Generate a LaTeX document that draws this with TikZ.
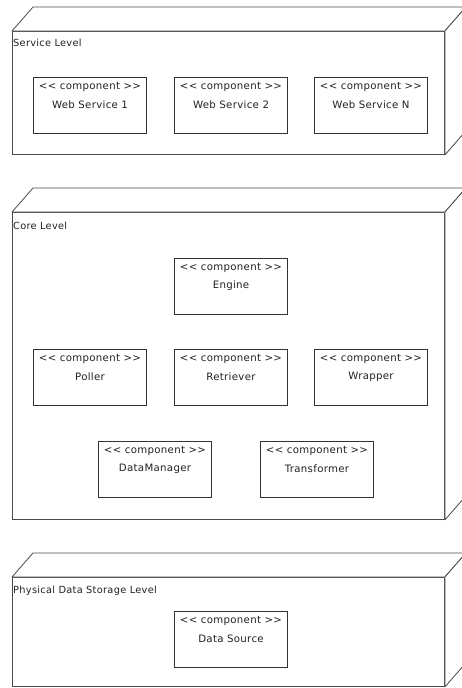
\documentclass[tikz,border=0pt]{standalone}
\usepackage{fontspec}
\setmainfont{DejaVu Sans}[LetterSpace=3]
\usetikzlibrary{calc}
\definecolor{frameln}{HTML}{4A4A4A}
\definecolor{compln}{HTML}{333333}
\definecolor{txt}{HTML}{222222}
\tikzset{
  levelbox/.style={draw=frameln, line width=0.9pt, anchor=north west, inner sep=0pt},
  depthface/.style={draw=frameln, line width=0.8pt, fill=white, line join=round},
  compbox/.style={draw=compln, line width=1pt, fill=white, minimum width=113pt, minimum height=56pt, anchor=north west, inner sep=0pt},
  stereo/.style={font=\fontsize{10.2}{11}\selectfont, text=txt, inner sep=0pt},
  cname/.style={font=\fontsize{10.2}{11}\selectfont, text=txt, inner sep=0pt},
  lvllabel/.style={font=\fontsize{9.8}{11}\selectfont, text=txt, anchor=west, inner sep=0pt}
}
\newcommand{\levelframe}[1]{%
  \draw[depthface] (#1.north west) -- ++(21,-24) -- ($(#1.north east)+(21,-24)$) -- (#1.north east) -- cycle;
  \draw[depthface] (#1.north east) -- ++(21,-24) -- ($(#1.south east)+(21,-24)$) -- (#1.south east) -- cycle;
}
\newcommand{\comp}[3]{%
  \node[compbox] (#1) at (#2) {};
  \node[stereo] (#1s) at ($(#1.north)+(0,10)$) {{<}{<} component {>}{>}};
  \node[cname] (#1n) at ($(#1.north)+(0,28)$) {#3};
}
\begin{document}
\begin{tikzpicture}[x=1pt,y=-1pt]
\useasboundingbox (0,0) rectangle (462,688);
\fill[white] (0,0) rectangle (462,688);
\clip (0,0) rectangle (462,688);
% Service level
\node[levelbox, minimum width=432pt, minimum height=123pt] (svc) at (12,31) {};
\levelframe{svc}
\node[lvllabel] (svcl) at (13,43) {Service Level};
\comp{ws1}{33,77}{Web Service 1}
\comp{ws2}{174,77}{Web Service 2}
\comp{wsn}{314,77}{Web Service N}
% Core level
\node[levelbox, minimum width=432pt, minimum height=307pt] (core) at (12,212) {};
\levelframe{core}
\node[lvllabel] (corel) at (13,226) {Core Level};
\comp{eng}{174,258}{Engine}
\comp{pol}{33,349}{Poller}
\comp{ret}{174,349}{Retriever}
\comp{wra}{314,349}{Wrapper}
\comp{dm}{98,441}{DataManager}
\comp{tr}{260,441}{Transformer}
% Physical level
\node[levelbox, minimum width=432pt, minimum height=109pt] (phy) at (12,577) {};
\levelframe{phy}
\node[lvllabel] (phyl) at (13,591) {Physical Data Storage Level};
\comp{ds}{174,611}{Data Source}
\end{tikzpicture}
\end{document}
